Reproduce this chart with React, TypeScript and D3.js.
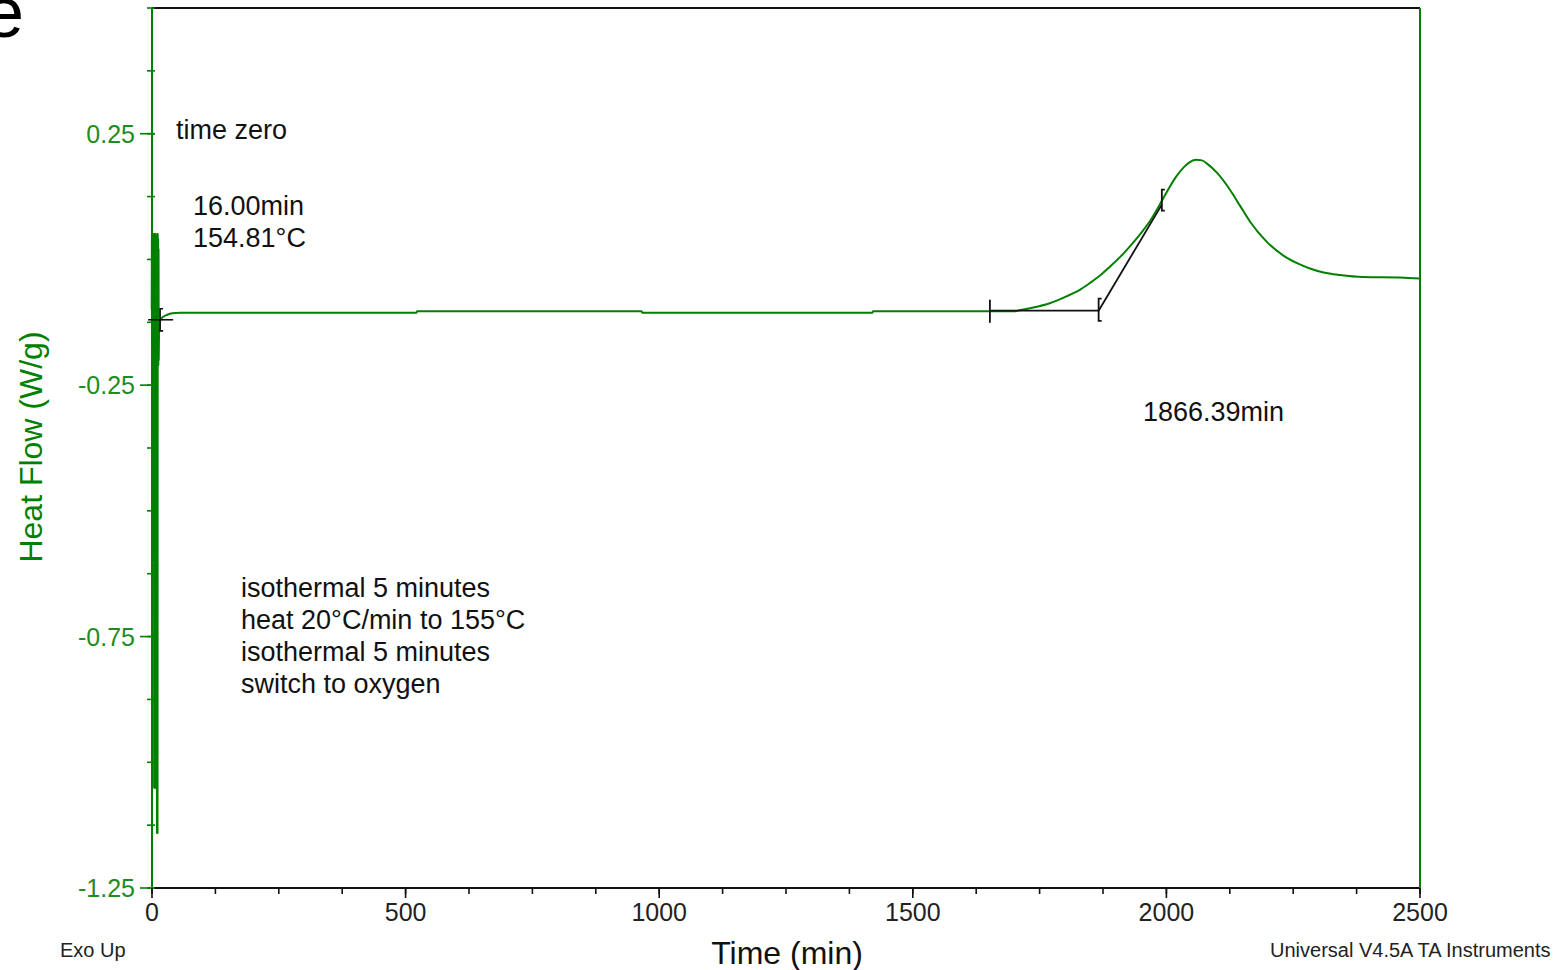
import React from "react";
import * as d3 from "d3";

// Start-up transient (time in min, heat flow in W/g), drawn point to point
const spikeTime = [
  0, 0.4, 0.8, 1.2, 1.6, 2.0, 2.4, 2.8, 3.2, 3.6, 4.0, 4.4, 4.8, 5.2, 5.6, 6.0, 6.4,
  6.8, 7.2, 7.6, 8.0, 8.4, 8.8, 9.2, 9.6, 10.0, 10.3, 10.7, 11.1, 11.5, 11.9, 12.3,
  12.7, 13.2, 14, 16,
];
const spikeFlow = [
  -0.1, 0.05, -0.52, 0.05, -0.53, 0.04, -0.52, 0.05, -0.53, 0.05, -0.6, 0.05, -1.05,
  0.04, -1.04, 0.05, -1.05, 0.03, -1.04, 0.02, -1.05, 0.03, -1.05, 0.0, -1.0, -0.05,
  -1.14, 0.05, -0.2, 0.04, -0.21, 0.02, -0.2, -0.15, -0.13, -0.12,
];

// Isothermal trace after time zero (time in min, heat flow in W/g)
const traceTime = [
  16, 18, 22, 30, 40, 55, 300, 521, 523, 965, 967, 1420, 1422, 1700, 1715, 1740,
  1770, 1804, 1830, 1849, 1869, 1889, 1909, 1928, 1948, 1968, 1993, 2007, 2021,
  2035, 2047, 2058, 2070, 2082, 2100, 2125, 2145, 2165, 2198, 2230, 2263, 2283,
  2310, 2342, 2388, 2461, 2500,
];
const traceFlow = [
  -0.12, -0.118, -0.114, -0.11, -0.107, -0.106, -0.106, -0.106, -0.103, -0.103,
  -0.106, -0.106, -0.103, -0.103, -0.1, -0.095, -0.087, -0.073, -0.06, -0.047,
  -0.032, -0.014, 0.005, 0.026, 0.05, 0.077, 0.12, 0.145, 0.167, 0.184, 0.194,
  0.198, 0.197, 0.189, 0.172, 0.139, 0.107, 0.075, 0.035, 0.008, -0.01, -0.018,
  -0.026, -0.031, -0.035, -0.036, -0.038,
];

// Onset analysis
const timeZero = 16.0;
const timeZeroFlow = -0.12;
const timeZeroTemp = 154.81;
const baselineStart = 1652;
const baselineFlow = -0.102;
const onsetTime = 1866.39;
const tangentEndTime = 1991;
const tangentEndFlow = 0.109;

// Axes
const xMajorTicks = [0, 500, 1000, 1500, 2000, 2500];
const xMinorTicks = d3.range(0, 2501, 125);
const yMajorTicks = [-1.25, -0.75, -0.25, 0.25];
const yMinorTicks = d3.range(-1.25, 0.5001, 0.125);

const methodLines = [
  "isothermal 5 minutes",
  "heat 20°C/min to 155°C",
  "isothermal 5 minutes",
  "switch to oxygen",
];

const GREEN = "#008000";
const LABEL_GREEN = "#1e8c1e";
const FONT = "'Liberation Sans', Arial, sans-serif";

export default function App() {
  const x = d3.scaleLinear().domain([0, 2500]).range([152, 1420]);
  const y = d3.scaleLinear().domain([-1.25, 0.5]).range([888, 8]);

  const spikePts: [number, number][] = spikeTime.map((t, i) => [t, spikeFlow[i]]);
  const tracePts: [number, number][] = traceTime.map((t, i) => [t, traceFlow[i]]);

  const spikeLine = d3
    .line<[number, number]>()
    .x((d) => x(d[0]))
    .y((d) => y(d[1]));
  const traceLine = d3
    .line<[number, number]>()
    .x((d) => x(d[0]))
    .y((d) => y(d[1]))
    .curve(d3.curveMonotoneX);

  const [x0, x1] = x.range();
  const [yb, yt] = y.range();

  const bracket = (t: number, v0: number, v1: number) => {
    const bx = x(t);
    const a = y(v0);
    const b = y(v1);
    return `M${bx + 3},${a} L${bx},${a} L${bx},${b} L${bx + 3},${b}`;
  };

  return (
    <svg
      width={1560}
      height={970}
      style={{ position: "absolute", left: 0, top: 0, background: "#fff" }}
      fontFamily={FONT}
    >
      {/* heading letter at page edge */}
      <text x={-16} y={37} fontSize={72} fill="#000">
        e
      </text>

      {/* frame */}
      <line x1={x0} x2={x1} y1={yt} y2={yt} stroke="#111" strokeWidth={2} />
      <line x1={x0} x2={x1} y1={yb} y2={yb} stroke="#111" strokeWidth={2} />
      <line x1={x1} x2={x1} y1={yt} y2={yb} stroke={GREEN} strokeWidth={2} />
      <line x1={x0} x2={x0} y1={yt} y2={yb} stroke={GREEN} strokeWidth={2} />

      {/* y ticks */}
      {yMinorTicks.map((v, i) => (
        <line key={"ym" + i} x1={x0 - 5} x2={x0 + 3} y1={y(v)} y2={y(v)} stroke={GREEN} strokeWidth={1.6} />
      ))}
      {yMajorTicks.map((v) => (
        <g key={"yM" + v}>
          <line x1={x0 - 12} x2={x0 + 3} y1={y(v)} y2={y(v)} stroke={GREEN} strokeWidth={1.6} />
          <text x={135} y={y(v)} dy="0.36em" textAnchor="end" fontSize={25} fill={LABEL_GREEN}>
            {v.toFixed(2)}
          </text>
        </g>
      ))}

      {/* x ticks */}
      {xMinorTicks.map((t) => (
        <line key={"xm" + t} x1={x(t)} x2={x(t)} y1={yb} y2={yb + 6} stroke="#111" strokeWidth={1.6} />
      ))}
      {xMajorTicks.map((t) => (
        <g key={"xM" + t}>
          <line x1={x(t)} x2={x(t)} y1={yb} y2={yb + 10} stroke="#111" strokeWidth={1.6} />
          <text x={x(t)} y={921} textAnchor="middle" fontSize={25} fill="#222">
            {t}
          </text>
        </g>
      ))}

      {/* axis titles */}
      <text x={787} y={964} textAnchor="middle" fontSize={32} fill="#111">
        Time (min)
      </text>
      <text
        transform="translate(42,447) rotate(-90)"
        textAnchor="middle"
        fontSize={32}
        fill={GREEN}
      >
        Heat Flow (W/g)
      </text>
      <text x={60} y={957} fontSize={20} fill="#222">
        Exo Up
      </text>
      <text x={1270} y={957} fontSize={20} fill="#222">
        Universal V4.5A TA Instruments
      </text>

      {/* trace */}
      <path d={spikeLine(spikePts) ?? ""} fill="none" stroke={GREEN} strokeWidth={2.6} strokeLinejoin="round" />
      <path d={traceLine(tracePts) ?? ""} fill="none" stroke={GREEN} strokeWidth={2} strokeLinejoin="round" />

      {/* time zero marker */}
      <g stroke="#111" strokeWidth={1.6} fill="none">
        <line x1={x(timeZero) - 12} x2={x(timeZero) + 13} y1={y(timeZeroFlow)} y2={y(timeZeroFlow)} />
        <path d={bracket(timeZero, timeZeroFlow + 0.022, timeZeroFlow - 0.022)} />
      </g>

      {/* onset construction */}
      <g stroke="#111" strokeWidth={1.8} fill="none">
        <line x1={x(baselineStart)} x2={x(onsetTime)} y1={y(baselineFlow)} y2={y(baselineFlow)} />
        <line x1={x(baselineStart)} x2={x(baselineStart)} y1={y(baselineFlow + 0.022)} y2={y(baselineFlow - 0.024)} />
        <path d={bracket(onsetTime, baselineFlow + 0.024, baselineFlow - 0.02)} />
        <line x1={x(onsetTime)} x2={x(tangentEndTime)} y1={y(baselineFlow)} y2={y(tangentEndFlow)} />
        <path d={bracket(tangentEndTime, tangentEndFlow + 0.03, tangentEndFlow - 0.012)} />
      </g>

      {/* annotations */}
      <g fontSize={27} fill="#111">
        <text x={176} y={139}>time zero</text>
        <text x={193} y={215}>{timeZero.toFixed(2)}min</text>
        <text x={193} y={247}>{timeZeroTemp.toFixed(2)}°C</text>
        <text x={1143} y={421}>{onsetTime.toFixed(2)}min</text>
        {methodLines.map((s, i) => (
          <text key={i} x={241} y={597 + i * 32}>
            {s}
          </text>
        ))}
      </g>
    </svg>
  );
}
